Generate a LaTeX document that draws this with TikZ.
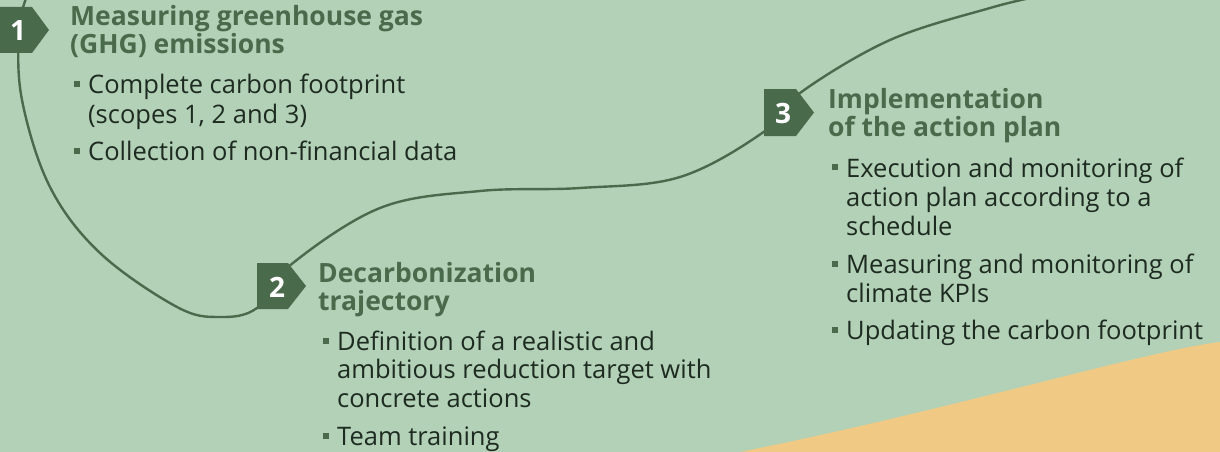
\documentclass[tikz,border=0pt]{standalone}
\usepackage{fontspec}
\setmainfont{Open Sans}
\definecolor{bg}{HTML}{B2D1B7}
\definecolor{dkgreen}{HTML}{4A6A4C}
\definecolor{orangefill}{HTML}{F0CA84}
\definecolor{bodytext}{HTML}{1E2B21}
\begin{document}
\begin{tikzpicture}[x=1pt,y=-1pt,
  head/.style={anchor=base west, inner sep=0, text=dkgreen, font=\fontsize{26.5}{28}\selectfont\bfseries},
  body/.style={anchor=base west, inner sep=0, text=bodytext, font=\fontsize{25.5}{29}\selectfont},
  num/.style={inner sep=0, text=white, font=\fontsize{28}{28}\selectfont\bfseries},
  badge/.style={fill=dkgreen},
  bul/.style={fill=dkgreen, inner sep=0, minimum size=6.5pt},
  trail/.style={draw=dkgreen, line width=2.4pt}
]
\fill[bg] (0,0) rectangle (1220,452);
\useasboundingbox (0,0) rectangle (1220,452);
\fill[orangefill] (740,452) .. controls (950,410) and (1150,350) .. (1220,342) -- (1220,452) -- cycle;

% winding trail
\draw[trail] plot[smooth, tension=0.6] coordinates {
  (27,-4) (19,30) (22,100) (50,187) (100,253) (177,307) (220,317) (257,308)
  (288,267) (380,208) (480,191) (580,188) (680,177) (765,131) (800,93)
  (890,40) (990,8) (1040,-4)};

% badges
\fill[badge] (0,7) -- (32,7) -- (49,30) -- (32,53) -- (0,53) -- cycle;
\fill[badge] (257,263) -- (288,263) -- (306,286) -- (288,309) -- (257,309) -- cycle;
\fill[badge] (764,89) -- (796,89) -- (814,112.5) -- (796,136) -- (764,136) -- cycle;
\node[num] (n1) at (18,31) {1};
\node[num] (n2) at (277,287) {2};
\node[num] (n3) at (783,113) {3};

% block 1
\node[head] (h1a) at (70,26) {Measuring greenhouse gas};
\node[head] (h1b) at (70,54) {(GHG) emissions};
\node[bul] (b1a) at (77,84) {};
\node[body] (t1a) at (88,93) {Complete carbon footprint};
\node[body] (t1b) at (88,123) {(scopes 1, 2 and 3)};
\node[bul] (b1b) at (77,151) {};
\node[body] (t1c) at (88,160) {Collection of non-financial data};

% block 2
\node[head] (h2a) at (318,282) {Decarbonization};
\node[head] (h2b) at (318,310) {trajectory};
\node[bul] (b2a) at (326,341) {};
\node[body] (t2a) at (337,350) {Definition of a realistic and};
\node[body] (t2b) at (337,378) {ambitious reduction target with};
\node[body] (t2c) at (337,407) {concrete actions};
\node[bul] (b2b) at (326,436) {};
\node[body] (t2d) at (337,445) {Team training};

% block 3
\node[head] (h3a) at (828,108) {Implementation};
\node[head] (h3b) at (828,136) {of the action plan};
\node[bul] (b3a) at (835,167) {};
\node[body] (t3a) at (846,177) {Execution and monitoring of};
\node[body] (t3b) at (846,206) {action plan according to a};
\node[body] (t3c) at (846,235) {schedule};
\node[bul] (b3b) at (835,264) {};
\node[body] (t3d) at (846,273) {Measuring and monitoring of};
\node[body] (t3e) at (846,302) {climate KPIs};
\node[bul] (b3c) at (835,330) {};
\node[body] (t3f) at (846,339) {Updating the carbon footprint};
\end{tikzpicture}
\end{document}
